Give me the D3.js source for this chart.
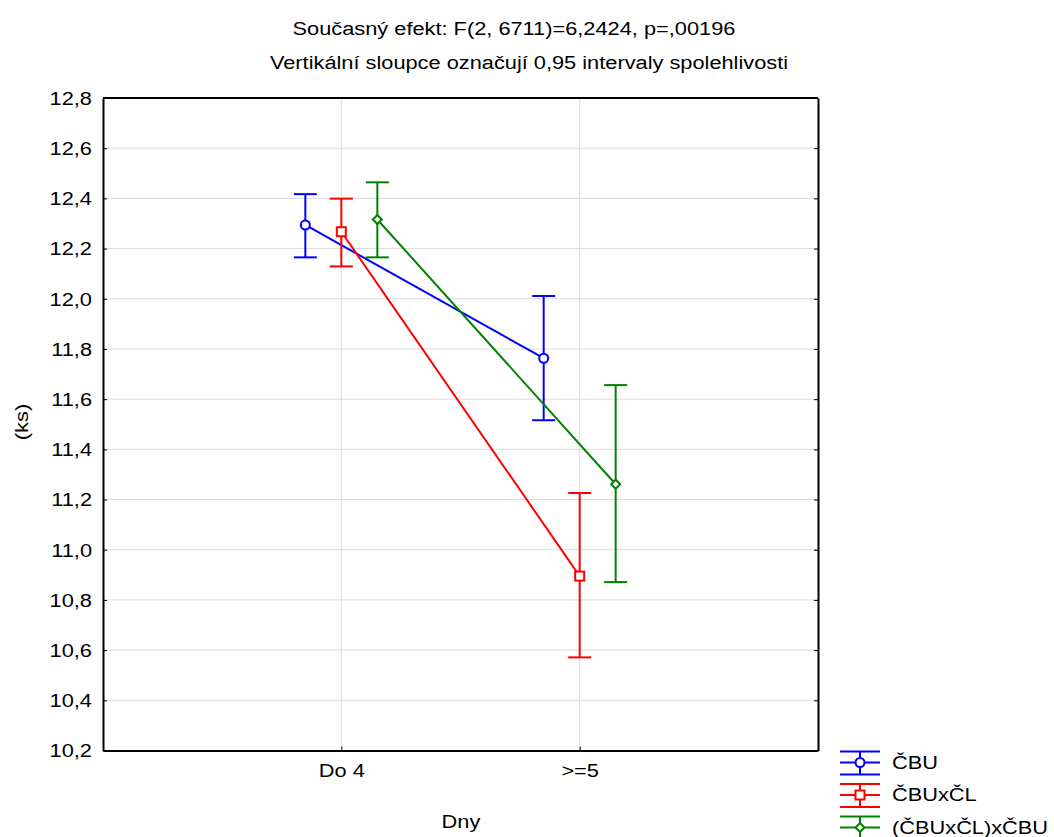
<!DOCTYPE html>
<html>
<head>
  <meta charset="utf-8">
  <title>Dny x (ks)</title>
  <script src="https://cdn.jsdelivr.net/npm/d3@7/dist/d3.min.js"></script>
  <style>
    body { margin: 0; background: #fff; }
    text { font-family: "Liberation Sans", Arial, sans-serif; fill: #000; }
  </style>
</head>
<body>
  <div id="chart"></div>
  <script>
    // data
    var days = ["Do 4", ">=5"];
    var groups = ["ČBU", "ČBUxČL", "(ČBUxČL)xČBU"];
    var colors = ["#0000ff", "#ff0000", "#008000"];
    var symbols = ["circle", "square", "diamond"];
    var means = [[12.294, 11.763], [12.267, 10.895], [12.316, 11.261]];
    var lower = [[12.165, 11.516], [12.129, 10.571], [12.165, 10.871]];
    var upper = [[12.417, 12.011], [12.399, 11.226], [12.464, 11.656]];
    var yTicks = [10.2, 10.4, 10.6, 10.8, 11.0, 11.2, 11.4, 11.6, 11.8, 12.0, 12.2, 12.4, 12.6, 12.8];

    var W = 1054, H = 837;
    var mLeft = 103, mRight = 818, mTop = 98, mBottom = 750.5;

    var svg = d3.select("#chart").append("svg").attr("width", W).attr("height", H);

    var x = d3.scalePoint().domain(days).range([mLeft, mRight]).padding(1);
    var y = d3.scaleLinear().domain([10.2, 12.8]).range([mBottom, mTop]);
    var offset = d3.scalePoint().domain(groups).range([-36, 36]);
    var fmt = function(v) { return d3.format(".1f")(v).replace(".", ","); };

    // grid
    svg.append("g").selectAll("line").data(yTicks.slice(1, -1)).enter().append("line")
      .attr("x1", mLeft).attr("x2", mRight)
      .attr("y1", function(d) { return y(d); }).attr("y2", function(d) { return y(d); })
      .attr("stroke", "#dcdcdc").attr("stroke-width", 1);
    svg.append("g").selectAll("line").data(days).enter().append("line")
      .attr("x1", function(d) { return x(d); }).attr("x2", function(d) { return x(d); })
      .attr("y1", mTop).attr("y2", mBottom)
      .attr("stroke", "#dcdcdc").attr("stroke-width", 1);

    // axes, ticks inside
    var yAxis = svg.append("g").attr("transform", "translate(" + mLeft + ",0)")
      .call(d3.axisLeft(y).tickValues(yTicks).tickFormat(fmt).tickSizeInner(-4).tickSizeOuter(0).tickPadding(11));
    var yAxisR = svg.append("g").attr("transform", "translate(" + mRight + ",0)")
      .call(d3.axisRight(y).tickValues(yTicks).tickFormat("").tickSizeInner(-4).tickSizeOuter(0));
    var xAxis = svg.append("g").attr("transform", "translate(0," + mBottom + ")")
      .call(d3.axisBottom(x).tickSizeInner(-4).tickSizeOuter(0).tickPadding(14));
    svg.append("line").attr("x1", mLeft).attr("x2", mRight).attr("y1", mTop).attr("y2", mTop)
      .attr("stroke", "#000").attr("stroke-width", 2);
    [yAxis, yAxisR, xAxis].forEach(function(g) {
      g.select(".domain").attr("stroke", "#000").attr("stroke-width", 2);
      g.selectAll(".tick line").attr("stroke", "#000");
      g.selectAll("text").style("font-family", "'Liberation Sans', Arial, sans-serif")
        .style("font-size", "18px").attr("fill", "#000");
    });
    yAxis.selectAll(".tick text").attr("dy", "0.35em");
    xAxis.selectAll(".tick text").attr("dy", "0.71em");

    // titles
    svg.append("text").attr("x", 514).attr("y", 35).attr("text-anchor", "middle")
      .style("font-size", "18px").text("Současný efekt: F(2, 6711)=6,2424, p=,00196");
    svg.append("text").attr("x", 529).attr("y", 69).attr("text-anchor", "middle")
      .style("font-size", "18px").text("Vertikální sloupce označují 0,95 intervaly spolehlivosti");
    svg.append("text").attr("transform", "translate(28,422) rotate(-90)").attr("text-anchor", "middle")
      .style("font-size", "18px").text("(ks)");
    svg.append("text").attr("x", 461).attr("y", 828).attr("text-anchor", "middle")
      .style("font-size", "18px").text("Dny");

    function marker(g, type, color) {
      if (type === "circle") {
        g.append("circle").attr("r", 4.5).attr("fill", "#fff").attr("stroke", color).attr("stroke-width", 2);
      } else if (type === "square") {
        g.append("rect").attr("x", -4.5).attr("y", -4.5).attr("width", 9).attr("height", 9)
          .attr("fill", "#fff").attr("stroke", color).attr("stroke-width", 2);
      } else {
        g.append("path").attr("d", "M0,-4.5L4.5,0L0,4.5L-4.5,0Z")
          .attr("fill", "#fff").attr("stroke", color).attr("stroke-width", 2);
      }
    }

    // series
    groups.forEach(function(grp, i) {
      var g = svg.append("g");
      var px = function(j) { return x(days[j]) + offset(grp); };
      var line = d3.line().x(function(d, j) { return px(j); }).y(function(d) { return y(d); });
      g.append("path").attr("d", line(means[i])).attr("fill", "none")
        .attr("stroke", colors[i]).attr("stroke-width", 2);
      days.forEach(function(dd, j) {
        var cx = px(j);
        g.append("line").attr("x1", cx).attr("x2", cx).attr("y1", y(lower[i][j])).attr("y2", y(upper[i][j]))
          .attr("stroke", colors[i]).attr("stroke-width", 2);
        [lower[i][j], upper[i][j]].forEach(function(v) {
          g.append("line").attr("x1", cx - 11.5).attr("x2", cx + 11.5).attr("y1", y(v)).attr("y2", y(v))
            .attr("stroke", colors[i]).attr("stroke-width", 2);
        });
        marker(g.append("g").attr("transform", "translate(" + cx + "," + y(means[i][j]) + ")"), symbols[i], colors[i]);
      });
    });

    // legend
    var leg = svg.append("g").selectAll("g").data(groups).enter().append("g")
      .attr("transform", function(d, i) { return "translate(860," + (762.5 + i * 32.5) + ")"; });
    leg.each(function(d, i) {
      var g = d3.select(this);
      [-11, 0, 12].forEach(function(dy) {
        g.append("line").attr("x1", -20).attr("x2", 20).attr("y1", dy).attr("y2", dy)
          .attr("stroke", colors[i]).attr("stroke-width", 2);
      });
      g.append("line").attr("x1", 0).attr("x2", 0).attr("y1", -11).attr("y2", 12)
        .attr("stroke", colors[i]).attr("stroke-width", 2);
      marker(g.append("g"), symbols[i], colors[i]);
      g.append("text").attr("x", 32).attr("y", 0).attr("dy", "0.35em")
        .style("font-size", "18px").text(d);
    });

    // the reference glyphs are wider than Liberation Sans, stretch every label
    svg.selectAll("text").each(function() {
      var w = this.getComputedTextLength();
      if (w > 0) d3.select(this).attr("textLength", w * 1.21).attr("lengthAdjust", "spacingAndGlyphs");
    });
  </script>
</body>
</html>
